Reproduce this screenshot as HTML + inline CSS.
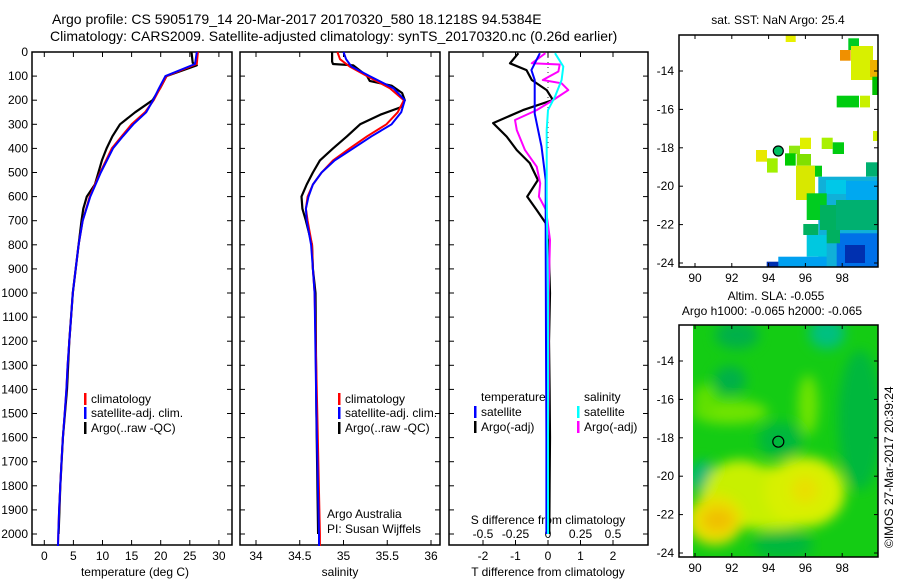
<!DOCTYPE html>
<html><head><meta charset="utf-8"><style>
body{margin:0;background:#fff;width:900px;height:580px;overflow:hidden}
svg{font-family:"Liberation Sans",sans-serif;display:block}
text{fill:#000}
</style></head><body>
<svg id="chart" width="900" height="580" viewBox="0 0 900 580" xmlns="http://www.w3.org/2000/svg">
<text x="52" y="24" font-size="14">Argo profile: CS 5905179_14 20-Mar-2017 20170320_580 18.1218S 94.5384E</text>
<text x="50" y="41" font-size="14">Climatology: CARS2009. Satellite-adjusted climatology: synTS_20170320.nc (0.26d earlier)</text>
<g id="p1"></g>
<g id="p2"></g>
<g id="p3"></g>
<g id="m1"></g>
<g id="m2"></g>
<text transform="translate(893,548) rotate(-90)" font-size="12">©IMOS 27-Mar-2017 20:39:24</text>
</svg>
<script>
// ---- data ----
const depthTicks = [0,100,200,300,400,500,600,700,800,900,1000,1100,1200,1300,1400,1500,1600,1700,1800,1900,2000];
const tTicks = [0,5,10,15,20,25,30];
const sTicks = [34,34.5,35,35.5,36];
const dtTicks = [-2,-1,0,1,2];
const dsTicks = [-0.5,-0.25,0,0.25,0.5];
const dsTickLabels = ["-0.5","-0.25","0","0.25","0.5"];
const lonTicks = [90,92,94,96,98];
const latTicks = [-14,-16,-18,-20,-22,-24];

const climP = [0,50,100,150,200,250,300,350,400,500,600,700,800,900,1000,1100,1200,1300,1400,1500,1600,1700,1800,1900,2000,2050];
const climT = [26.4,26.2,21.0,19.9,18.8,17.3,15.0,13.3,11.6,9.6,7.8,6.6,5.9,5.4,4.9,4.6,4.3,4.0,3.8,3.5,3.2,2.95,2.75,2.55,2.4,2.35];
const satT  = [26.2,25.9,20.8,19.7,18.7,17.5,15.3,13.5,11.8,9.7,7.9,6.6,5.9,5.4,4.9,4.6,4.3,4.0,3.8,3.5,3.2,2.95,2.75,2.55,2.4,2.35];
const argoTP = [0,45,55,100,150,200,250,300,350,400,450,500,550,600,650,700,800,900,1000,1200,1400,1600,1800,2000];
const argoT  = [25.3,25.5,26.2,21.0,19.9,18.6,15.6,13.0,11.7,10.7,9.9,9.3,8.7,7.3,6.7,6.4,5.9,5.4,4.9,4.3,3.9,3.2,2.75,2.45];

const climSP = [0,30,60,100,150,200,250,300,350,400,450,500,550,600,650,700,800,900,1000,1500,2000,2050];
const climS = [34.93,34.96,35.07,35.27,35.53,35.69,35.62,35.49,35.27,35.07,34.88,34.75,34.65,34.59,34.57,34.59,34.64,34.65,34.67,34.7,34.73,34.73];
const satS  = [35.0,35.03,35.09,35.30,35.57,35.70,35.66,35.55,35.32,35.11,34.90,34.75,34.65,34.60,34.57,34.58,34.63,34.65,34.67,34.69,34.72,34.72];
const argoSP = [0,40,50,55,100,120,140,170,200,230,260,300,350,400,450,500,550,600,650,700,800,900,1000,1500,2000];
const argoS = [34.87,34.87,34.88,35.11,35.27,35.30,35.55,35.67,35.70,35.65,35.42,35.19,35.04,34.88,34.73,34.65,34.58,34.52,34.53,34.57,34.64,34.65,34.68,34.69,34.71];

const dTP = [5,47,75,116,158,199,241,295,351,407,461,531,600,655,710,800,1000,1200,1400,1600,1800,2000];
const dTArgo = [-0.91,-1.17,-0.66,-0.5,-0.04,0.15,-0.77,-1.69,-1.27,-0.96,-0.56,-0.31,-0.64,-0.35,-0.07,0.02,0.06,0.03,0.05,0.06,0.05,0.04];
const dTSatP = [5,75,116,255,392,531,800,1200,1600,2000];
const dTSat = [-0.25,-0.51,-0.41,-0.41,-0.2,-0.07,-0.07,-0.06,-0.05,-0.05];
const dSP = [5,47,52,81,116,130,158,199,241,282,324,407,476,545,600,655,780,1000,1400,2000];
const dSArgo = [-0.02,-0.125,0.09,0.08,-0.04,0.105,0.156,0.04,-0.087,-0.254,-0.24,-0.177,-0.087,-0.06,-0.07,-0.015,0.015,0.005,0.005,-0.01];
const dSSatP = [5,60,116,185,241,324,600,1000,2000];
const dSSat = [0.054,0.118,0.105,0.054,0,-0.01,-0.01,0.0,0.0];

// ---- helpers ----
const NS="http://www.w3.org/2000/svg";
function mk(parent,tag,attrs){const e=document.createElementNS(NS,tag);for(const k in attrs)e.setAttribute(k,attrs[k]);parent.appendChild(e);return e;}
const yP = p => 52 + p*0.241;
const xT = t => 44.3 + t*5.82;
const xS = s => 256 + (s-34)*87.5;
const xDT = d => 548 + d*32.5;
const xDS = d => 548 + d*130;

function frame(g,x0,x1,name){
  const r=mk(g,'rect',{x:x0,y:52,width:x1-x0,height:493,fill:'none',stroke:'#000','stroke-width':1.5});
  
  
  depthTicks.forEach(p=>{
    mk(g,'line',{x1:x0,x2:x0+5,y1:yP(p),y2:yP(p),stroke:'#000'});
    mk(g,'line',{x1:x1-5,x2:x1,y1:yP(p),y2:yP(p),stroke:'#000'});
  });
}
function xticks(g,vals,labels,fx,y,name){
  vals.forEach((v,i)=>{
    const x=fx(v);
    mk(g,'line',{x1:x,x2:x,y1:52,y2:57,stroke:'#000'});
    mk(g,'line',{x1:x,x2:x,y1:540,y2:545,stroke:'#000'});
    const t=mk(g,'text',{x:x,y:y,'font-size':12,'text-anchor':'middle'});t.textContent=labels[i];
    
    
  });
}
function line(g,xs,ps,fx,color,w,name){
  const pts=xs.map((v,i)=>fx(v).toFixed(1)+','+yP(ps[i]).toFixed(1)).join(' ');
  const l=mk(g,'polyline',{points:pts,fill:'none',stroke:color,'stroke-width':w,'stroke-linejoin':'round'});
  
  
}
function txt(g,x,y,s,name,size,anchor){
  const t=mk(g,'text',{x:x,y:y,'font-size':size||12,'text-anchor':anchor||'start'});t.textContent=s;
  
  
  return t;
}
function legend(g,x,y,color,label){
  const b=mk(g,'rect',{x:x,y:y-10,width:2.5,height:12,fill:color});
  
  
  txt(g,x+7,y,label,'legend-entry');
}

// Panel 1
const p1=document.getElementById('p1');
frame(p1,32,232,'temperature-frame');
depthTicks.forEach(p=>txt(p1,28,yP(p)+4,String(p),'depth-tick-label',12,'end'));
xticks(p1,tTicks,tTicks.map(String),xT,560,'temperature-tick-label');
txt(p1,135,576,'temperature (deg C)','x-axis-title',12,'middle');
line(p1,argoT,argoTP,xT,'#000',2.2,'argo-temperature-line');
line(p1,climT,climP,xT,'#f00',2,'climatology-temperature-line');
line(p1,satT,climP,xT,'#00f',2,'satellite-temperature-line');
legend(p1,84,403,'#f00','climatology');
legend(p1,84,417,'#00f','satellite-adj. clim.');
legend(p1,84,432,'#000','Argo(..raw -QC)');

// Panel 2
const p2=document.getElementById('p2');
frame(p2,240,440,'salinity-frame');
xticks(p2,sTicks,sTicks.map(String),xS,560,'salinity-tick-label');
txt(p2,340,576,'salinity','x-axis-title',12,'middle');
line(p2,argoS,argoSP,xS,'#000',2.2,'argo-salinity-line');
line(p2,climS,climSP,xS,'#f00',2,'climatology-salinity-line');
line(p2,satS,climSP,xS,'#00f',2,'satellite-salinity-line');
legend(p2,338,403,'#f00','climatology');
legend(p2,338,417,'#00f','satellite-adj. clim.');
legend(p2,338,432,'#000','Argo(..raw -QC)');
txt(p2,327,518,'Argo Australia','credit-text');
txt(p2,327,533,'PI: Susan Wijffels','credit-text');

// Panel 3
const p3=document.getElementById('p3');
frame(p3,449,648,'difference-frame');
xticks(p3,dtTicks,dtTicks.map(String),xDT,560,'t-diff-tick-label');
dsTicks.forEach((v,i)=>txt(p3,xDS(v),538,dsTickLabels[i],'s-diff-tick-label',12,'middle'));
txt(p3,548,524,'S difference from climatology','s-axis-title',12,'middle');
txt(p3,548,576,'T difference from climatology','x-axis-title',12,'middle');
mk(p3,'line',{x1:548,x2:548,y1:52,y2:150,stroke:'#000','stroke-width':0.8,'stroke-dasharray':'1,4'});
line(p3,dTArgo,dTP,xDT,'#000',2.2,'argo-t-diff-line');
line(p3,dSArgo,dSP,xDS,'#f0f',2,'argo-s-diff-line');
line(p3,dTSat,dTSatP,xDT,'#00f',2,'satellite-t-diff-line');
line(p3,dSSat,dSSatP,xDS,'#0ff',2,'satellite-s-diff-line');
txt(p3,481,401,'temperature','legend-heading');
legend(p3,474,416,'#00f','satellite');
legend(p3,474,431,'#000','Argo(-adj)');
txt(p3,584,401,'salinity','legend-heading');
legend(p3,577,416,'#0ff','satellite');
legend(p3,577,431,'#f0f','Argo(-adj)');

// Maps
const xLon = l => 695 + (l-90)*18.4;
const yLat = (lat,off) => off + 71 + (-14-lat)*19.2;
function mapAxes(g,off,name){
  const r=mk(g,'rect',{x:679,y:35+off,width:199,height:232,fill:'none',stroke:'#000','stroke-width':1.5});
  
  
  lonTicks.forEach(l=>{
    const x=xLon(l);
    mk(g,'line',{x1:x,x2:x,y1:35+off,y2:39+off,stroke:'#000'});
    mk(g,'line',{x1:x,x2:x,y1:263+off,y2:267+off,stroke:'#000'});
    txt(g,x,282+off,String(l),'longitude-tick-label',12,'middle');
  });
  latTicks.forEach(l=>{
    const y=yLat(l,off);
    mk(g,'line',{x1:679,x2:683,y1:y,y2:y,stroke:'#000'});
    mk(g,'line',{x1:874,x2:878,y1:y,y2:y,stroke:'#000'});
    txt(g,674,y+4,String(l),'latitude-tick-label',12,'end');
  });
}
// SST map
const m1=document.getElementById('m1');
txt(m1,778,24,'sat. SST: NaN Argo: 25.4','sst-map-title',12,'middle');
const sstCells=[
[785.7,35,10,7,'#e8f000'],[848.3,38.3,10.7,11.7,'#00cc22'],[851,46,22,34,'#d8f000'],[840,50,10.7,10.7,'#f09000'],
[870,60,8,17,'#f0b000'],[872.3,76.7,5.6,18.3,'#00c000'],[836.7,95.7,22.3,11.7,'#00cc10'],[860,95.7,10,11.7,'#c8f000'],
[873,131,5,10,'#d0f000'],[800,137.7,11,11.3,'#e0f000'],[821.7,137.7,11,11.3,'#a8f000'],[832.7,142.3,11.3,11.7,'#00cc10'],
[789,145.7,11,8.3,'#90e810'],[756,150,11,11.7,'#e8e800'],[785,153.3,10.7,12.3,'#00cc00'],[796.7,154,14.3,11.7,'#80e000'],
[767,158.3,10.7,14.3,'#a0f000'],[811,165.7,11,11,'#00cc10'],[796,165.7,19,34.3,'#d8e800'],[866,162.3,12,14.3,'#00b070'],
[818.3,176.7,59.7,90,'#10b0d8'],[826,180,20,14,'#00c8e8'],[846,181,32,25,'#00a8f0'],[836,200,42,30,'#00b070'],
[806.7,193.3,20,26.7,'#00cc20'],[820,205,16,25,'#00b060'],[803.3,224,15,11,'#00b060'],[806.7,235,20,21.7,'#00c8e0'],
[836.7,233.3,41.3,33.7,'#0070e8'],[845,245,20,18,'#0030b0'],[826.7,230,13.3,13.3,'#00b060'],[778.3,256.7,48.3,10.3,'#00a0f0'],
[766.7,261.7,11.7,5.3,'#0030b0']];
sstCells.forEach(c=>{
  const r=mk(m1,'rect',{x:c[0],y:c[1],width:c[2],height:c[3],fill:c[4]});
  
  
});
mk(m1,'circle',{cx:778.3,cy:151,r:5,fill:'#00c060',stroke:'#000','stroke-width':1.2});
mapAxes(m1,0,'sst-map-frame');

// SLA map
const m2=document.getElementById('m2');
txt(m2,776,300,'Altim. SLA: -0.055','sla-map-title',12,'middle');
txt(m2,772,315,'Argo h1000: -0.065 h2000: -0.065','sla-map-subtitle',12,'middle');
const defs=mk(m2,'defs',{});
const cp=mk(defs,'clipPath',{id:'slaclip'});mk(cp,'rect',{x:693,y:325,width:185,height:232});
const fl=mk(defs,'filter',{id:'blur',x:'-50%',y:'-50%',width:'200%',height:'200%'});mk(fl,'feGaussianBlur',{stdDeviation:6});
const sg=mk(m2,'g',{'clip-path':'url(#slaclip)'});


mk(sg,'rect',{x:693,y:325,width:185,height:232,fill:'#14cc14'});
const bl=mk(sg,'g',{filter:'url(#blur)'});
[[737,335,22,14,'#00b048'],[730,380,16,14,'#00b048'],[827,333,18,16,'#00c080'],[703,477,14,16,'#00b878'],
 [860,420,22,70,'#00b83c'],[780,440,22,18,'#00b83c'],[783,545,30,14,'#00b83c'],
 [730,412,38,12,'#70e400'],[705,400,12,16,'#60e000'],[808,405,10,30,'#70e400'],
 [770,498,70,32,'#c8f000'],[740,490,35,30,'#c8f000'],[805,492,40,35,'#d8f000'],[715,520,28,25,'#e8e000'],[718,520,16,12,'#f0c000'],[805,490,14,14,'#e8e000']
].forEach(e=>mk(bl,'ellipse',{cx:e[0],cy:e[1],rx:e[2],ry:e[3],fill:e[4]}));
mk(m2,'circle',{cx:778.3,cy:441.7,r:5.5,fill:'none',stroke:'#000','stroke-width':1.2});
mapAxes(m2,290,'sla-map-frame');
</script>
</body></html>
